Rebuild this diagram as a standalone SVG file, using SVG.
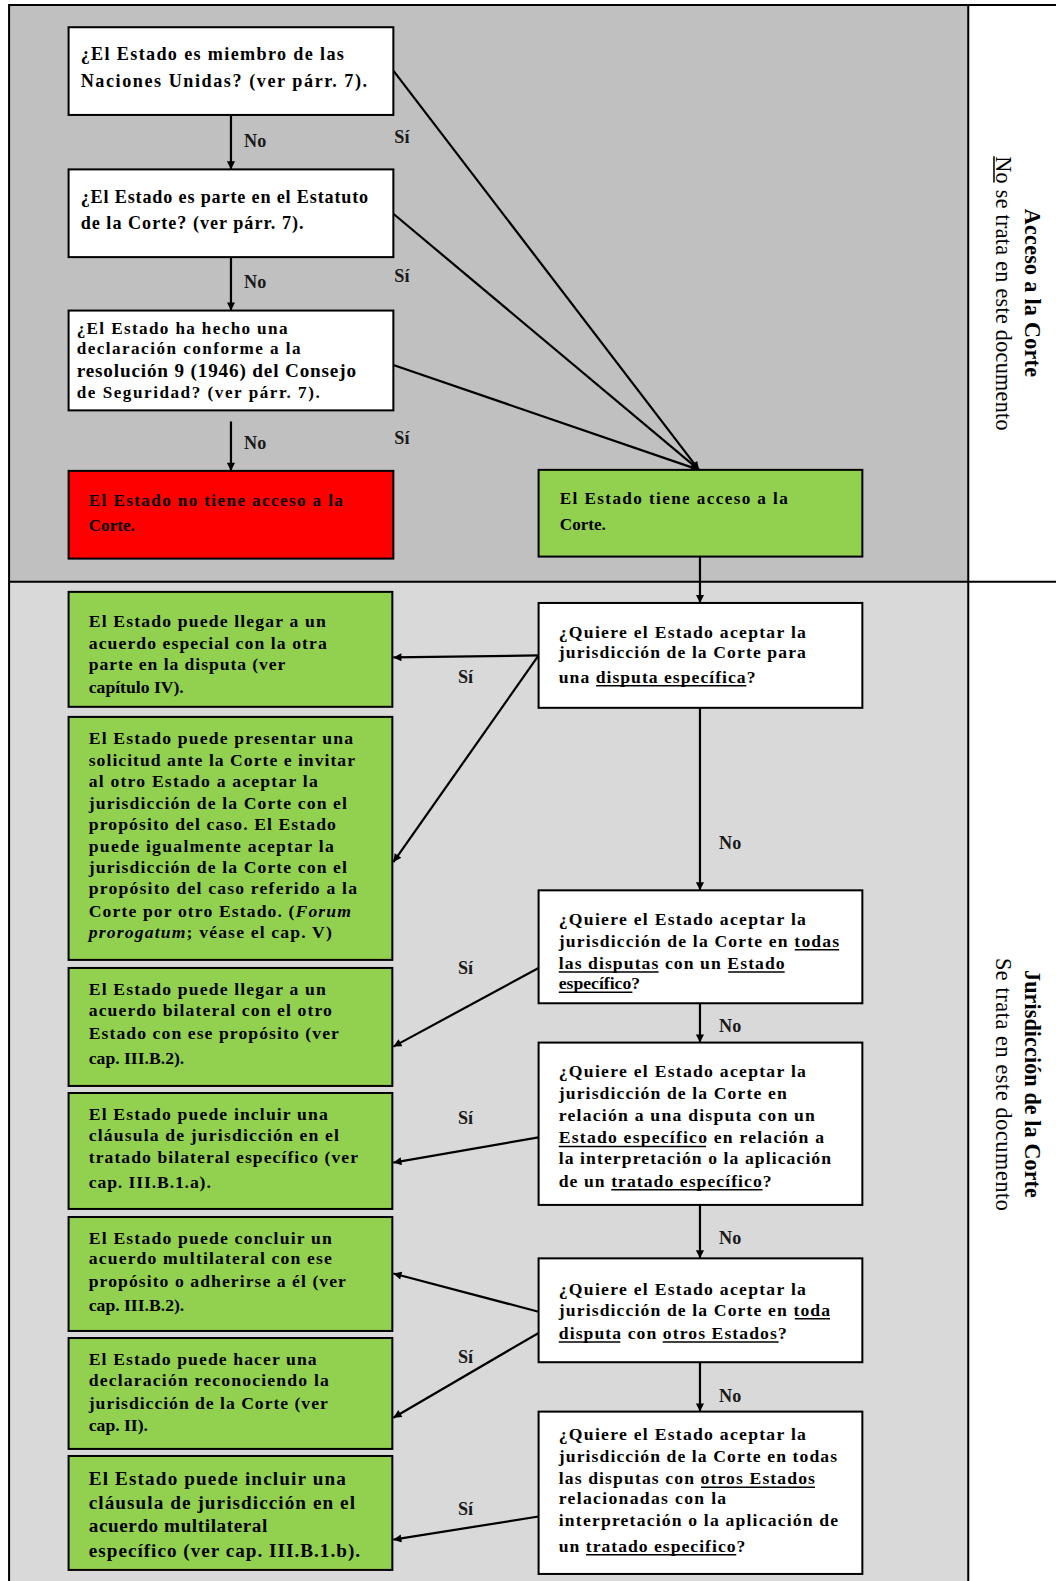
<svg xmlns="http://www.w3.org/2000/svg" width="1056" height="1581" viewBox="0 0 1056 1581">
<style>
.t{font-family:"Liberation Serif","Times New Roman",serif;font-weight:bold;font-size:17.5px;fill:#000}
.big{font-size:19px}
.lbl{font-family:"Liberation Serif","Times New Roman",serif;font-weight:bold;font-size:18px;fill:#1a1a1a}
.side{font-family:"Liberation Serif","Times New Roman",serif;font-size:22px;fill:#000}
.sideb{font-weight:bold}
.box{stroke:#000;stroke-width:2}
.w{fill:#fff}.g{fill:#92d050}.r{fill:#ff0000}
.c{stroke:#000;stroke-width:2.2;fill:none;marker-end:url(#ah)}
.ul{stroke:#000;stroke-width:1.5}
.i{font-style:italic}
.frame{stroke:#000;stroke-width:2;fill:none}
</style>
<defs>
<marker id="ah" viewBox="0 0 10 10" refX="10" refY="5" markerUnits="userSpaceOnUse" markerWidth="10" markerHeight="8" orient="auto">
<path d="M0,0 L10,5 L0,10 z" fill="#000"/>
</marker>
</defs>
<g transform="scale(1.0086 1.0083)">
<g id="background">
<rect x="9" y="5" width="951" height="572" fill="#c0c0c0"/>
<rect x="9" y="577" width="951" height="1000" fill="#d9d9d9"/>
<rect x="960" y="5" width="100" height="1572" fill="#fff"/>
<path class="frame" d="M9,1580 V5 H1050 M960,5 V1580 M9,577 H1050"/>
</g>
<g id="side-labels">
<text class="side sideb" transform="translate(1016,207) rotate(90)" textLength="167" lengthAdjust="spacing">Acceso a la Corte</text>
<text class="side" transform="translate(988,155) rotate(90)" textLength="272" lengthAdjust="spacing">No se trata en este documento</text>
<line class="ul" x1="985.5" y1="155" x2="985.5" y2="181"/>
<text class="side sideb" transform="translate(1016,962) rotate(90)" textLength="226" lengthAdjust="spacing">Jurisdicción de la Corte</text>
<text class="side" transform="translate(988,950) rotate(90)" textLength="251" lengthAdjust="spacing">Se trata  en  este  documento</text>
</g>
<g id="connectors">
<line class="c" x1="229" y1="114" x2="229" y2="168"/>
<line class="c" x1="229" y1="255" x2="229" y2="308"/>
<line class="c" x1="229" y1="418" x2="229" y2="467"/>
<line class="c" x1="390" y1="70" x2="693" y2="466"/>
<line class="c" x1="390" y1="212" x2="693" y2="466"/>
<line class="c" x1="390" y1="362" x2="693" y2="466"/>
<line class="c" x1="694" y1="552" x2="694" y2="598"/>
<line class="c" x1="534" y1="650" x2="390" y2="652"/>
<line class="c" x1="534" y1="650" x2="390" y2="855"/>
<line class="c" x1="694" y1="702" x2="694" y2="883"/>
<line class="c" x1="534" y1="960" x2="390" y2="1038"/>
<line class="c" x1="694" y1="995" x2="694" y2="1034"/>
<line class="c" x1="534" y1="1128" x2="390" y2="1153"/>
<line class="c" x1="694" y1="1195" x2="694" y2="1248"/>
<line class="c" x1="534" y1="1301" x2="390" y2="1263"/>
<line class="c" x1="534" y1="1322" x2="390" y2="1406"/>
<line class="c" x1="694" y1="1351" x2="694" y2="1400"/>
<line class="c" x1="534" y1="1504" x2="390" y2="1527"/>
<text class="lbl" x="242" y="146">No</text>
<text class="lbl" x="242" y="286">No</text>
<text class="lbl" x="242" y="445">No</text>
<text class="lbl" x="391" y="142">Sí</text>
<text class="lbl" x="391" y="280">Sí</text>
<text class="lbl" x="391" y="440">Sí</text>
<text class="lbl" x="713" y="842">No</text>
<text class="lbl" x="713" y="1024">No</text>
<text class="lbl" x="713" y="1234">No</text>
<text class="lbl" x="713" y="1390">No</text>
<text class="lbl" x="454" y="677">Sí</text>
<text class="lbl" x="454" y="966">Sí</text>
<text class="lbl" x="454" y="1115">Sí</text>
<text class="lbl" x="454" y="1352">Sí</text>
<text class="lbl" x="454" y="1503">Sí</text>
</g>
<g id="n-miembro">
<rect class="box w" x="68" y="27" width="322" height="87"/>
<text class="t" x="80" y="60" style="font-size:18px" textLength="261" lengthAdjust="spacing">¿El Estado es miembro  de las</text>
<text class="t" x="80" y="86" style="font-size:18px" textLength="284" lengthAdjust="spacing">Naciones  Unidas? (ver párr.  7).</text>
</g>
<g id="n-estatuto">
<rect class="box w" x="68" y="168" width="322" height="87"/>
<text class="t" x="80" y="201" style="font-size:18px" textLength="285" lengthAdjust="spacing">¿El Estado  es parte  en el Estatuto</text>
<text class="t" x="80" y="227" style="font-size:18px" textLength="221" lengthAdjust="spacing">de la Corte?  (ver  párr.  7).</text>
</g>
<g id="n-declaracion">
<rect class="box w" x="68" y="308" width="322" height="99"/>
<text class="t" x="76" y="331" style="font-size:17px" textLength="209" lengthAdjust="spacing">¿El Estado  ha hecho  una</text>
<text class="t" x="76" y="351" style="font-size:17px" textLength="222" lengthAdjust="spacing">declaración  conforme  a la</text>
<text class="t big" x="76" y="374" textLength="277" lengthAdjust="spacing">resolución  9 (1946)  del Consejo</text>
<text class="t" x="76" y="395" style="font-size:17px" textLength="241" lengthAdjust="spacing">de Seguridad?  (ver  párr.  7).</text>
</g>
<g id="n-no-acceso">
<rect class="box r" x="68" y="467" width="322" height="87"/>
<text class="t" x="88" y="502" style="font-size:17px" textLength="252" lengthAdjust="spacing">El Estado  no tiene  acceso  a la</text>
<text class="t" x="88" y="527" style="font-size:17px">Corte.</text>
</g>
<g id="n-acceso">
<rect class="box g" x="534" y="466" width="321" height="86"/>
<text class="t" x="555" y="500" style="font-size:17px" textLength="226" lengthAdjust="spacing">El Estado  tiene  acceso  a la</text>
<text class="t" x="555" y="526" style="font-size:17px">Corte.</text>
</g>
<g id="n-q1">
<rect class="box w" x="534" y="598" width="321" height="104"/>
<text class="t" x="554" y="633" textLength="245" lengthAdjust="spacing">¿Quiere  el Estado  aceptar  la</text>
<text class="t" x="554" y="653" textLength="245" lengthAdjust="spacing">jurisdicción  de la Corte para</text>
<text class="t" x="554" y="677" textLength="195" lengthAdjust="spacing">una disputa  específica?</text>
<line class="ul" x1="591" y1="680" x2="740" y2="680"/>
</g>
<g id="n-q2">
<rect class="box w" x="534" y="883" width="321" height="112"/>
<text class="t" x="554" y="917" textLength="245" lengthAdjust="spacing">¿Quiere  el Estado  aceptar  la</text>
<text class="t" x="554" y="939" textLength="278" lengthAdjust="spacing">jurisdicción  de la Corte en todas</text>
<text class="t" x="554" y="961" textLength="224" lengthAdjust="spacing">las disputas  con un Estado</text>
<text class="t" x="554" y="981">específico?</text>
<line class="ul" x1="788" y1="942" x2="832" y2="942"/>
<line class="ul" x1="554" y1="964" x2="653" y2="964"/>
<line class="ul" x1="722" y1="964" x2="778" y2="964"/>
<line class="ul" x1="554" y1="984" x2="627" y2="984"/>
</g>
<g id="n-q3">
<rect class="box w" x="534" y="1034" width="321" height="161"/>
<text class="t" x="554" y="1068" textLength="245" lengthAdjust="spacing">¿Quiere  el Estado  aceptar  la</text>
<text class="t" x="554" y="1090" textLength="226" lengthAdjust="spacing">jurisdicción  de la Corte en</text>
<text class="t" x="554" y="1112" textLength="254" lengthAdjust="spacing">relación  a una  disputa  con un</text>
<text class="t" x="554" y="1134" textLength="263" lengthAdjust="spacing">Estado  específico en relación  a</text>
<text class="t" x="554" y="1154" textLength="270" lengthAdjust="spacing">la interpretación   o la aplicación</text>
<text class="t" x="554" y="1177" textLength="211" lengthAdjust="spacing">de un tratado  específico?</text>
<line class="ul" x1="554" y1="1137" x2="700" y2="1137"/>
<line class="ul" x1="606" y1="1180" x2="756" y2="1180"/>
</g>
<g id="n-q4">
<rect class="box w" x="534" y="1248" width="321" height="103"/>
<text class="t" x="554" y="1284" textLength="245" lengthAdjust="spacing">¿Quiere  el Estado  aceptar  la</text>
<text class="t" x="554" y="1305" textLength="269" lengthAdjust="spacing">jurisdicción  de la Corte en toda</text>
<text class="t" x="554" y="1328" textLength="226" lengthAdjust="spacing">disputa  con otros  Estados?</text>
<line class="ul" x1="788" y1="1308" x2="823" y2="1308"/>
<line class="ul" x1="554" y1="1331" x2="615" y2="1331"/>
<line class="ul" x1="657" y1="1331" x2="772" y2="1331"/>
</g>
<g id="n-q5">
<rect class="box w" x="534" y="1400" width="321" height="161"/>
<text class="t" x="554" y="1428" textLength="245" lengthAdjust="spacing">¿Quiere  el Estado  aceptar  la</text>
<text class="t" x="554" y="1450" textLength="276" lengthAdjust="spacing">jurisdicción  de la Corte en todas</text>
<text class="t" x="554" y="1472" textLength="254" lengthAdjust="spacing">las disputas  con otros Estados</text>
<text class="t" x="554" y="1492" textLength="166" lengthAdjust="spacing">relacionadas  con la</text>
<text class="t" x="554" y="1513" textLength="277" lengthAdjust="spacing">interpretación   o la aplicación  de</text>
<text class="t" x="554" y="1539" textLength="185" lengthAdjust="spacing">un tratado  especifico?</text>
<line class="ul" x1="695" y1="1475" x2="808" y2="1475"/>
<line class="ul" x1="581" y1="1542" x2="730" y2="1542"/>
</g>
<g id="n-g1">
<rect class="box g" x="68" y="587" width="321" height="114"/>
<text class="t" x="88" y="622" textLength="235" lengthAdjust="spacing">El Estado  puede  llegar  a un</text>
<text class="t" x="88" y="644" textLength="236" lengthAdjust="spacing">acuerdo  especial con la otra</text>
<text class="t" x="88" y="664" textLength="195" lengthAdjust="spacing">parte  en la disputa  (ver</text>
<text class="t" x="88" y="687">capítulo  IV).</text>
</g>
<g id="n-g2">
<rect class="box g" x="68" y="711" width="321" height="241"/>
<text class="t" x="88" y="738" textLength="262" lengthAdjust="spacing">El Estado  puede  presentar  una</text>
<text class="t" x="88" y="760" textLength="264" lengthAdjust="spacing">solicitud  ante la Corte e invitar</text>
<text class="t" x="88" y="781" textLength="227" lengthAdjust="spacing">al otro Estado  a aceptar  la</text>
<text class="t" x="88" y="802" textLength="256" lengthAdjust="spacing">jurisdicción  de la Corte con el</text>
<text class="t" x="88" y="823" textLength="245" lengthAdjust="spacing">propósito  del caso. El Estado</text>
<text class="t" x="88" y="845" textLength="243" lengthAdjust="spacing">puede  igualmente  aceptar  la</text>
<text class="t" x="88" y="866" textLength="256" lengthAdjust="spacing">jurisdicción  de la Corte con el</text>
<text class="t" x="88" y="887" textLength="266" lengthAdjust="spacing">propósito  del caso referido  a la</text>
<text class="t" x="88" y="909" textLength="260" lengthAdjust="spacing">Corte por otro Estado. (<tspan class="i">Forum</tspan></text>
<text class="t" x="88" y="930" textLength="241" lengthAdjust="spacing"><tspan class="i">prorogatum</tspan>;  véase  el cap. V)</text>
</g>
<g id="n-g3">
<rect class="box g" x="68" y="960" width="321" height="117"/>
<text class="t" x="88" y="987" textLength="235" lengthAdjust="spacing">El Estado  puede  llegar  a un</text>
<text class="t" x="88" y="1008" textLength="241" lengthAdjust="spacing">acuerdo  bilateral  con el otro</text>
<text class="t" x="88" y="1030" textLength="248" lengthAdjust="spacing">Estado  con ese propósito  (ver</text>
<text class="t" x="88" y="1055">cap.  III.B.2).</text>
</g>
<g id="n-g4">
<rect class="box g" x="68" y="1084" width="321" height="115"/>
<text class="t" x="88" y="1111" textLength="237" lengthAdjust="spacing">El Estado  puede  incluir  una</text>
<text class="t" x="88" y="1132" textLength="248" lengthAdjust="spacing">cláusula  de jurisdicción  en el</text>
<text class="t" x="88" y="1153" textLength="267" lengthAdjust="spacing">tratado  bilateral  específico  (ver</text>
<text class="t" x="88" y="1178" textLength="121" lengthAdjust="spacing">cap.  III.B.1.a).</text>
</g>
<g id="n-g5">
<rect class="box g" x="68" y="1207" width="321" height="113"/>
<text class="t" x="88" y="1234" textLength="241" lengthAdjust="spacing">El Estado  puede  concluir  un</text>
<text class="t" x="88" y="1254" textLength="241" lengthAdjust="spacing">acuerdo  multilateral  con ese</text>
<text class="t" x="88" y="1276" textLength="255" lengthAdjust="spacing">propósito  o adherirse  a él (ver</text>
<text class="t" x="88" y="1300">cap.  III.B.2).</text>
</g>
<g id="n-g6">
<rect class="box g" x="68" y="1327" width="321" height="110"/>
<text class="t" x="88" y="1354" textLength="226" lengthAdjust="spacing">El Estado  puede  hacer  una</text>
<text class="t" x="88" y="1375" textLength="238" lengthAdjust="spacing">declaración  reconociendo  la</text>
<text class="t" x="88" y="1397" textLength="237" lengthAdjust="spacing">jurisdicción  de la Corte (ver</text>
<text class="t" x="88" y="1419">cap.  II).</text>
</g>
<g id="n-g7">
<rect class="box g" x="68" y="1444" width="321" height="113"/>
<text class="t big" x="88" y="1473" textLength="255" lengthAdjust="spacing">El Estado  puede incluir  una</text>
<text class="t big" x="88" y="1497" textLength="264" lengthAdjust="spacing">cláusula  de jurisdicción  en el</text>
<text class="t big" x="88" y="1519" textLength="177" lengthAdjust="spacing">acuerdo  multilateral</text>
<text class="t big" x="88" y="1544" textLength="269" lengthAdjust="spacing">específico  (ver  cap.  III.B.1.b).</text>
</g>
</g>
</svg>
